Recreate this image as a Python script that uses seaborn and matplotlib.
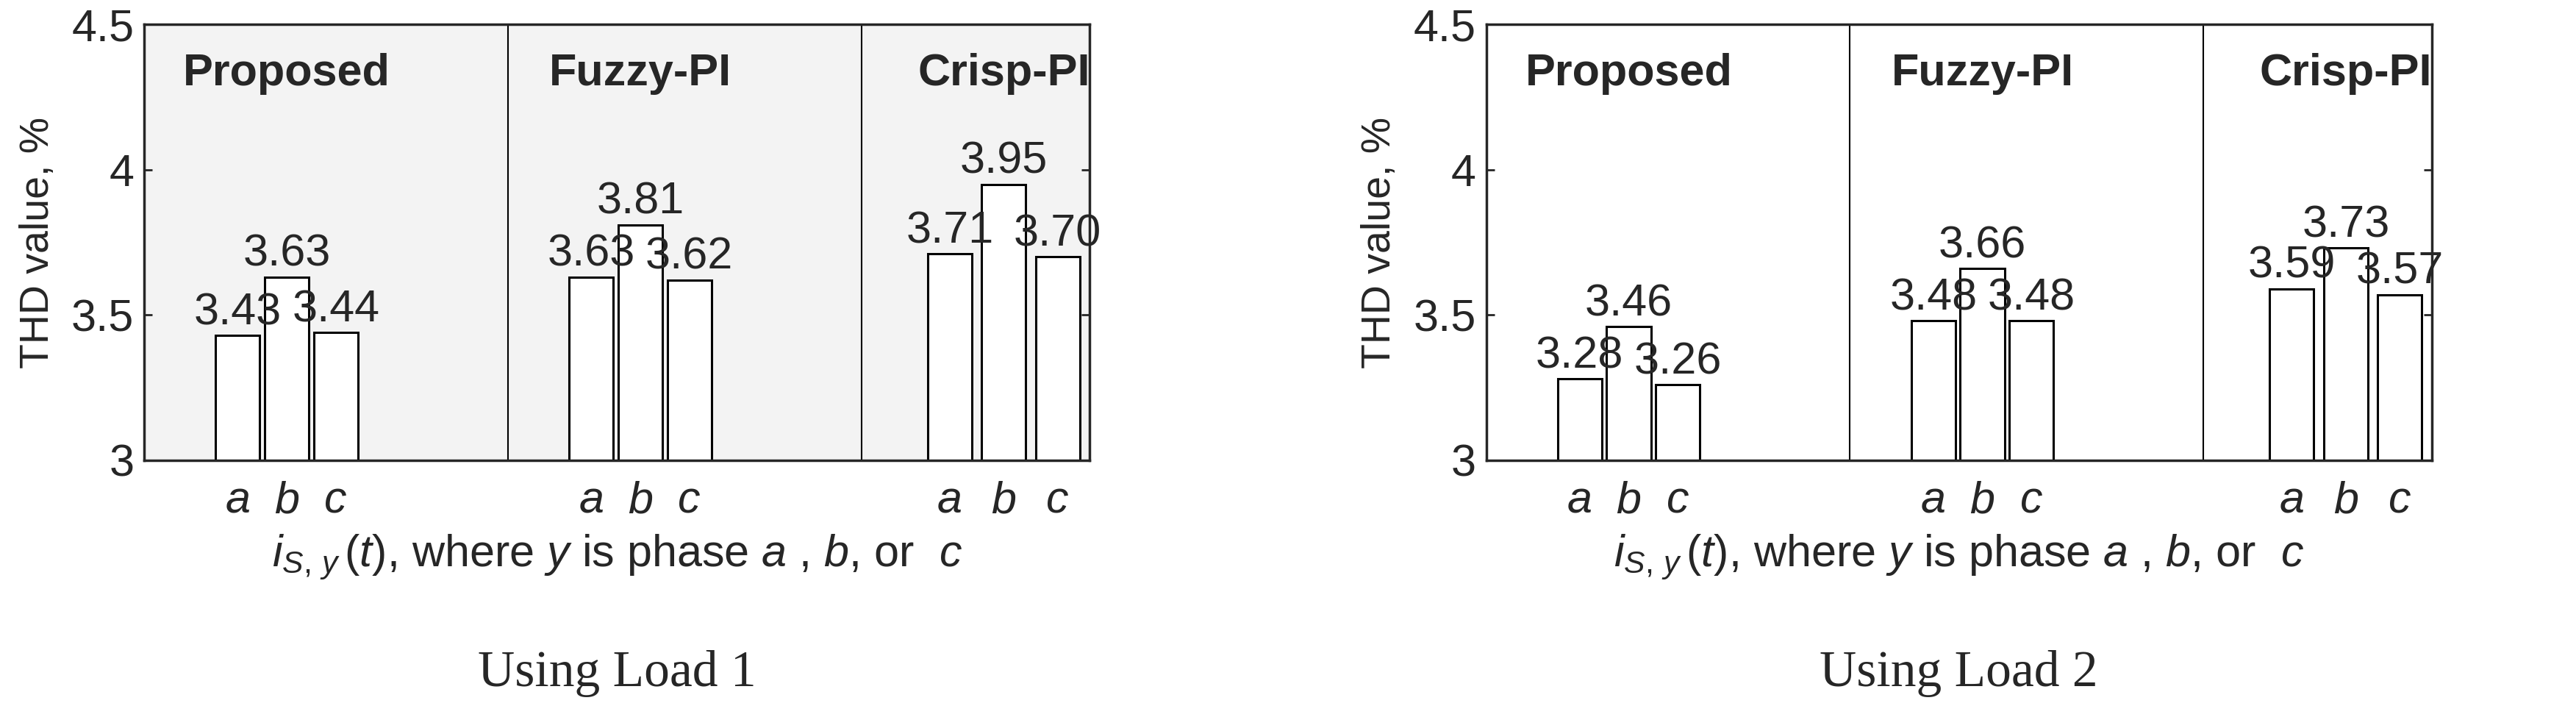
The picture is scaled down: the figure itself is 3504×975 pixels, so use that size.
import numpy as np
import pandas as pd
import matplotlib
matplotlib.use("Agg")
import matplotlib.pyplot as plt
import seaborn as sns

# data
methods = ["Proposed", "Fuzzy-PI", "Crisp-PI"]
phases = ["a", "b", "c"]
load1 = [3.43, 3.63, 3.44, 3.63, 3.81, 3.62, 3.71, 3.95, 3.70]
load2 = [3.28, 3.46, 3.26, 3.48, 3.66, 3.48, 3.59, 3.73, 3.57]
loads = ["Using Load 1", "Using Load 2"]

sns.set_style("ticks")
plt.rcParams["font.family"] = ["Liberation Sans", "DejaVu Sans"]
plt.rcParams["mathtext.fontset"] = "custom"
plt.rcParams["mathtext.it"] = "Liberation Sans:italic"
plt.rcParams["mathtext.rm"] = "Liberation Sans"

# bar x positions within each panel (layout only)
pos = [1.9, 2.9, 3.9, 9.1, 10.1, 11.1, 16.4, 17.5, 18.6]
seps = [7.4, 14.6]
centers = [2.9, 10.1, 17.5]

fs = 44
fig = plt.figure(figsize=(35.04, 9.75), dpi=100)
lefts = [0.056, 0.577]
bgs = ["#f3f3f3", "white"]
for k, vals in enumerate([load1, load2]):
    ax = fig.add_axes([lefts[k], 0.358, 0.367, 0.608])
    df = pd.DataFrame({"pos": pos, "val": vals})
    sns.barplot(data=df, x="pos", y="val", native_scale=True, width=0.9,
                color="white", edgecolor="black", linewidth=2.2, ax=ax,
                bottom=0)
    ax.set_facecolor(bgs[k])
    ax.set_ylim(3, 4.5)
    ax.set_xlim(0, 19.25)
    ax.set_yticks([3, 3.5, 4, 4.5])
    ax.set_yticklabels(["3", "3.5", "4", "4.5"], fontsize=fs)
    ax.set_xticks(pos)
    ax.set_xticklabels(phases * 3, fontsize=fs, style="italic")
    ax.tick_params(axis="x", length=0, pad=20)
    ax.tick_params(axis="y", direction="in", length=8, width=2, right=True, pad=10)
    for s in ax.spines.values():
        s.set_linewidth(2.5)
    for sx in seps:
        ax.axvline(sx, color="black", lw=1.5)
    for p, v in zip(pos, vals):
        ax.text(p, v + 0.005, f"{v:.2f}", ha="center", va="bottom", fontsize=fs)
    for c, m in zip(centers, methods):
        ax.text(c, 4.33, m, ha="center", va="center", fontsize=fs,
                fontweight="bold")
    ax.set_ylabel("THD value, %", fontsize=40, labelpad=14)
    ax.set_xlabel(r"$i_{S,\,y}\,(t)$, where $y$ is phase $a$ , $b$, or  $c$",
                  fontsize=fs, labelpad=10)
    fig.text(lefts[k] + 0.1835, 0.06, loads[k], ha="center", va="center",
             fontsize=50, family="Liberation Serif")

fig.savefig("out.png", dpi=100, facecolor="white")
